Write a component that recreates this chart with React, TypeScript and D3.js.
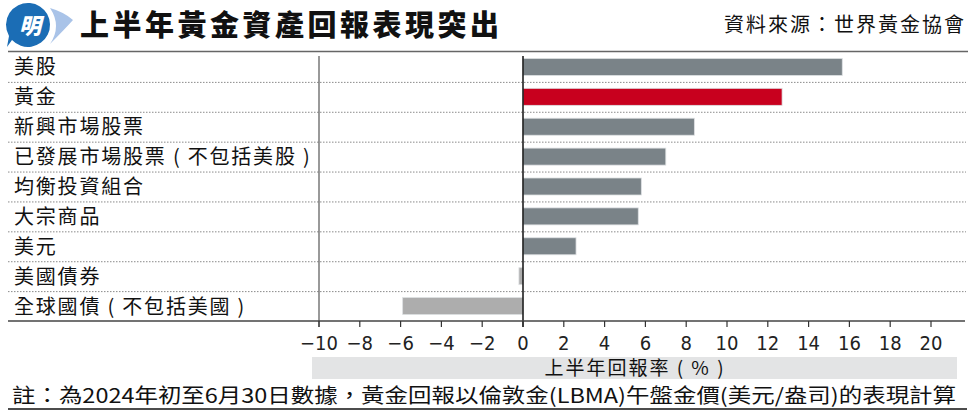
import { useEffect } from "react";
import * as d3 from "d3";

const categories = [
  "美股",
  "黃金",
  "新興市場股票",
  "已發展市場股票 ( 不包括美股 )",
  "均衡投資組合",
  "大宗商品",
  "美元",
  "美國債券",
  "全球國債 ( 不包括美國 )",
];
const returns = [15.65, 12.7, 8.4, 7.0, 5.8, 5.65, 2.6, -0.2, -5.9];
const highlight = "黃金";
const ticks = [-10, -8, -6, -4, -2, 0, 2, 4, 6, 8, 10, 12, 14, 16, 18, 20];

const W = 974;
const H = 415;
const CJK = "'Noto Sans CJK TC', 'Noto Sans', sans-serif";
const NUM = "'DejaVu Sans Condensed', 'DejaVu Sans', sans-serif";

export default function App(): JSX.Element {
  useEffect(() => {
    document.body.style.margin = "0";
  }, []);

  // x runs -10..20 between the left rule and the 20 tick
  const x = d3.scaleLinear().domain([-10, 20]).range([319, 931]);
  const y = d3.scaleBand<string>().domain(categories).range([52, 321]);

  const barH = 17;
  const fmt = (t: number) => (t < 0 ? `\u2212${Math.abs(t)}` : `${t}`);

  return (
    <svg width={W} height={H} style={{ display: "block", background: "#fff" }}>
      {/* logo */}
      <g>
        <path
          d="M50,8 Q64,12 73,20 Q64,30 50,44 Q62,26 50,8 Z"
          fill="#a9c3e8"
        />
        <path
          d="M30,3 A22,22 0 1 1 12,40 L7,47 L9,36 A22,22 0 0 1 30,3 Z"
          fill="#1b6db5"
        />
        <text
          x={30}
          y={34}
          textAnchor="middle"
          fontFamily={CJK}
          fontWeight={900}
          fontStyle="italic"
          fontSize={22}
          fill="#fff"
        >
          明
        </text>
      </g>

      {/* title */}
      <text
        x={80}
        y={36}
        fontFamily={CJK}
        fontWeight={900}
        fontSize={29}
        letterSpacing={3.5}
        fill="#111"
      >
        上半年黃金資產回報表現突出
      </text>
      <text
        x={966}
        y={32}
        textAnchor="end"
        fontFamily={CJK}
        fontSize={20}
        letterSpacing={2}
        fill="#111"
      >
        資料來源：世界黃金協會
      </text>

      {/* top rule */}
      <line x1={8} x2={968} y1={51.5} y2={51.5} stroke="#666" strokeWidth={1.5} />

      {/* row separators */}
      {categories.slice(1).map((c) => (
        <line
          key={`sep-${c}`}
          x1={8}
          x2={966}
          y1={(y(c) ?? 0) + 0.5}
          y2={(y(c) ?? 0) + 0.5}
          stroke="#8a8a8a"
          strokeWidth={1}
          strokeDasharray="1.5,1.5"
        />
      ))}

      {/* left rule at -10 */}
      <line x1={x(-10)} x2={x(-10)} y1={56} y2={327} stroke="#555" strokeWidth={1.2} />

      {/* bars */}
      {categories.map((c, i) => {
        const v = returns[i];
        const cy = (y(c) ?? 0) + y.bandwidth() / 2;
        const fill = c === highlight ? "#c8001e" : v < 0 ? "#adadad" : "#7a8388";
        return (
          <rect
            key={`bar-${c}`}
            x={Math.min(x(0), x(v))}
            y={cy - barH / 2}
            width={Math.abs(x(v) - x(0))}
            height={barH}
            fill={fill}
            stroke="#dde0e2"
            strokeWidth={0.8}
          />
        );
      })}

      {/* zero line */}
      <line x1={x(0)} x2={x(0)} y1={56} y2={327} stroke="#111" strokeWidth={1.5} />

      {/* category labels */}
      {categories.map((c) => (
        <text
          key={`lab-${c}`}
          x={14}
          y={(y(c) ?? 0) + y.bandwidth() / 2 + 7.5}
          fontFamily={CJK}
          fontSize={20}
          letterSpacing={1.8}
          fill="#111"
        >
          {c}
        </text>
      ))}

      {/* x axis */}
      <line x1={8} x2={965} y1={321} y2={321} stroke="#444" strokeWidth={1.5} />
      {ticks.map((t) => (
        <g key={`tick-${t}`}>
          <line x1={x(t)} x2={x(t)} y1={321} y2={327} stroke="#333" strokeWidth={1.2} />
          <text
            x={x(t)}
            y={350}
            textAnchor="middle"
            fontFamily={NUM}
            fontStretch="condensed"
            fontSize={20}
            fill="#222"
          >
            {fmt(t)}
          </text>
        </g>
      ))}

      {/* axis title band */}
      <rect x={312} y={357} width={645} height={22} fill="#e3e4e5" />
      <text
        x={635}
        y={375}
        textAnchor="middle"
        fontFamily={CJK}
        fontSize={19}
        letterSpacing={2}
        fill="#111"
      >
        上半年回報率 ( % )
      </text>

      {/* footnote */}
      <text x={12} y={403} fontFamily={CJK} fontSize={20} fill="#111" textLength={944} lengthAdjust="spacingAndGlyphs">
        註：為2024年初至6月30日數據，黃金回報以倫敦金(LBMA)午盤金價(美元/盎司)的表現計算
      </text>
      <line x1={8} x2={967} y1={409} y2={409} stroke="#111" strokeWidth={1.5} />
    </svg>
  );
}
